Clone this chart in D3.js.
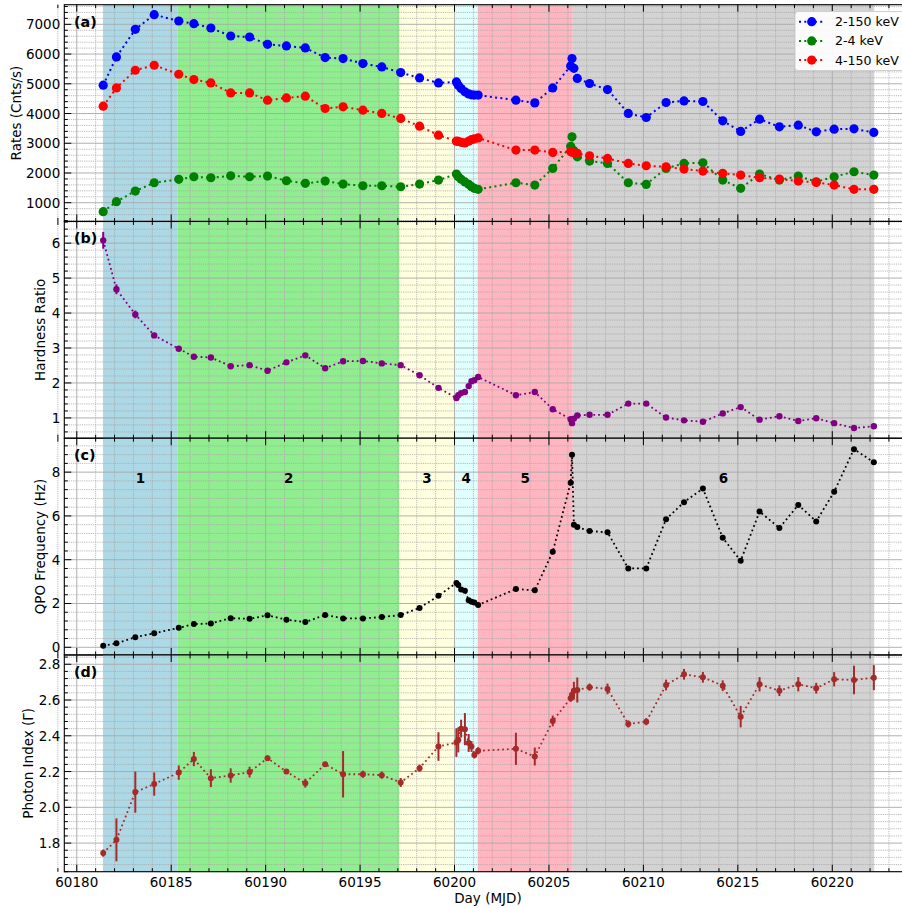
<!DOCTYPE html>
<html>
<head>
<meta charset="utf-8">
<script src="https://cdn.jsdelivr.net/npm/d3@7"></script>
<style>
  body { margin: 0; background: #fff; }
  svg { display: block; font-family: "DejaVu Sans", sans-serif; }
</style>
</head>
<body>
<div id="chart"></div>
<script>
// observation days (MJD)
const days = [60181.4, 60182.1, 60183.1, 60184.1, 60185.4, 60186.2, 60187.1, 60188.15, 60189.15, 60190.1,
  60191.1, 60192.1, 60193.15, 60194.1, 60195.15, 60196.15, 60197.15, 60198.15, 60199.15,
  60200.1, 60200.2, 60200.35, 60200.55, 60200.75, 60200.9, 60201.05, 60201.25,
  60203.25, 60204.25, 60205.2,
  60206.15, 60206.22, 60206.32, 60206.5,
  60207.15, 60208.1, 60209.2, 60210.15, 60211.2, 60212.15, 60213.15, 60214.2, 60215.15, 60216.15,
  60217.2, 60218.2, 60219.15, 60220.1, 60221.15, 60222.2];

// (a) count rates
const rateAll = [4952, 5902, 6832, 7326, 7111, 7022, 6876, 6607, 6574, 6328, 6272, 6205, 5882, 5848, 5680, 5566, 5378, 5197, 5029,
  5063, 4950, 4840, 4730, 4660, 4630, 4620, 4620,
  4448, 4358, 4861,
  5600, 5850, 5520, 5180,
  5009, 4807, 4002, 3867, 4371, 4425, 4404, 3753, 3397, 3810, 3552, 3609, 3384, 3474, 3484, 3364];
const rateSoft = [698, 1034, 1393, 1671, 1786, 1873, 1839, 1906, 1873, 1896, 1739, 1651, 1729, 1627, 1571, 1571, 1537, 1627, 1762,
  1963, 1873, 1790, 1700, 1620, 1540, 1483, 1450,
  1671, 1594, 2155,
  2900, 3216, 2750, 2545,
  2400, 2323, 1671, 1617, 2155, 2323, 2343, 1762, 1483, 1963, 1762, 1896, 1705, 1873, 2041, 1930];
const rateHard = [4247, 4861, 5455, 5623, 5321, 5143, 5029, 4693, 4693, 4448, 4526, 4582, 4169, 4224, 4112, 4002, 3834, 3575, 3273,
  3070, 3060, 3030, 3010, 3070, 3120, 3150, 3180,
  2769, 2769, 2691,
  2720, 2700, 2680, 2660,
  2580, 2491, 2323, 2243, 2209, 2131, 2064, 1987, 1930, 1840, 1796, 1729, 1684, 1594, 1450, 1450];

// (b) hardness ratio
const hardness = [6.08, 4.68, 3.96, 3.36, 2.98, 2.75, 2.73, 2.48, 2.51, 2.35, 2.59, 2.79, 2.42, 2.62, 2.63, 2.56, 2.51, 2.22, 1.86,
  1.57, 1.65, 1.71, 1.74, 1.91, 2.05, 2.08, 2.17,
  1.65, 1.74, 1.25,
  0.96, 0.85, 0.98, 1.07,
  1.09, 1.09, 1.41, 1.41, 1.01, 0.93, 0.89, 1.13, 1.31, 0.95, 1.05, 0.91, 0.99, 0.85, 0.71, 0.76];
const hardnessErr = [0.24, 0.14, 0.11, 0.06, 0.05, 0.04, 0.04, 0.04, 0.04, 0.04, 0.04, 0.04, 0.04, 0.04, 0.04, 0.03, 0.03, 0.03, 0.03,
  0.03, 0.03, 0.03, 0.03, 0.03, 0.03, 0.03, 0.03,
  0.03, 0.03, 0.02,
  0.03, 0.03, 0.02, 0.02,
  0.02, 0.02, 0.02, 0.02, 0.02, 0.02, 0.02, 0.02, 0.02, 0.02, 0.02, 0.02, 0.02, 0.02, 0.02, 0.02];

// (c) QPO frequency
const qpo = [0.07, 0.18, 0.46, 0.64, 0.89, 1.06, 1.09, 1.33, 1.30, 1.46, 1.26, 1.15, 1.48, 1.32, 1.32, 1.38, 1.47, 1.80, 2.35,
  2.94, 2.84, 2.64, 2.58, 2.15, 2.08, 2.05, 1.93,
  2.66, 2.60, 4.36,
  7.52, 8.79, 5.60, 5.49,
  5.31, 5.25, 3.60, 3.60, 5.85, 6.63, 7.25, 5.00, 3.95, 6.20, 5.45, 6.50, 5.75, 7.10, 9.05, 8.45];

// (d) photon index
const gamma = [1.744, 1.818, 2.085, 2.13, 2.194, 2.27, 2.163, 2.178, 2.197, 2.275, 2.2, 2.135, 2.241, 2.185, 2.185, 2.18, 2.139, 2.219, 2.34,
  2.362, 2.377, 2.44, 2.437, 2.36, 2.34, 2.293, 2.316,
  2.327, 2.284, 2.483,
  2.61, 2.63, 2.652, 2.656,
  2.672, 2.662, 2.466, 2.479, 2.684, 2.744, 2.727, 2.68, 2.507, 2.688, 2.652, 2.688, 2.666, 2.716, 2.712, 2.725];
const gammaErr = [0.02, 0.12, 0.115, 0.065, 0.04, 0.04, 0.05, 0.04, 0.03, 0.015, 0.01, 0.025, 0.01, 0.13, 0.02, 0.02, 0.025, 0.02, 0.08,
  0.08, 0.07, 0.05, 0.09, 0.05, 0.03, 0.02, 0.02,
  0.09, 0.05, 0.03,
  0.02, 0.03, 0.05, 0.07,
  0.02, 0.03, 0.02, 0.02, 0.03, 0.03, 0.03, 0.03, 0.06, 0.04, 0.03, 0.04, 0.03, 0.04, 0.08, 0.07];

// spectral states (shaded)
const stateEdges = [60181.39, 60185.35, 60197.08, 60200.01, 60201.23, 60206.26, 60222.22];
const stateColors = ["#add8e6", "#90ee90", "#ffffe0", "#e0ffff", "#ffb6c1", "#d3d3d3"];
const stateLabels = ["1", "2", "3", "4", "5", "6"];

const legendLabels = ["2-150 keV", "2-4 keV", "4-150 keV"];

const W = 902, H = 908;
const left = 64.3, right = 911.6;
const panelTop = 4.7, panelH = 216.75;

const x = d3.scaleLinear().domain([60179.34, 60224.2]).range([left, right]);

const svg = d3.select("#chart").append("svg")
  .attr("width", W).attr("height", H);

function rangeStep(a, b, s) {
  const out = [];
  for (let v = a; v <= b + 1e-9; v += s) out.push(+v.toFixed(6));
  return out;
}

const panels = [
  {tag: "(a)", label: "Rates (Cnts/s)", labelX: 16, domain: [370, 7660], major: rangeStep(1000, 7000, 1000), minorStep: 200, fmt: d3.format("d")},
  {tag: "(b)", label: "Hardness Ratio", labelX: 40, domain: [0.42, 6.62], major: rangeStep(1, 6, 1), minorStep: 0.2, fmt: d3.format("d")},
  {tag: "(c)", label: "QPO Frequency (Hz)", labelX: 40, domain: [-0.35, 9.55], major: rangeStep(0, 8, 2), minorStep: 0.4, fmt: d3.format("d")},
  {tag: "(d)", label: "Photon Index (\u0393)", labelX: 28, domain: [1.64, 2.852], major: rangeStep(1.8, 2.8, 0.2), minorStep: 0.04, fmt: d3.format(".1f")}
];

const xMajor = rangeStep(60180, 60225, 5);
const xMinor = rangeStep(60179, 60225, 1).filter(d => d % 5 !== 0);

panels.forEach((p, i) => {
  const top = panelTop + i * panelH;
  const bottom = top + panelH;
  p.y = d3.scaleLinear().domain(p.domain).range([bottom, top]);
  const lo = Math.ceil(p.domain[0] / p.minorStep) * p.minorStep;
  p.minor = rangeStep(lo, p.domain[1], p.minorStep)
    .filter(v => !p.major.some(m => Math.abs(m - v) < 1e-6));
  p.top = top; p.bottom = bottom;

  const g = svg.append("g").attr("class", "panel");
  p.g = g;

  // state shading
  g.selectAll(".state").data(stateColors)
    .join("rect")
    .attr("x", (d, k) => x(stateEdges[k]))
    .attr("width", (d, k) => x(stateEdges[k + 1]) - x(stateEdges[k]))
    .attr("y", top).attr("height", panelH)
    .attr("fill", d => d);

  // grid
  const grid = g.append("g").attr("class", "grid");
  grid.selectAll(".gxm").data(xMinor).join("line")
    .attr("x1", d => x(d)).attr("x2", d => x(d)).attr("y1", top).attr("y2", bottom)
    .attr("stroke", "#a8a8a8").attr("stroke-width", 0.8).attr("stroke-dasharray", "1.2,1");
  grid.selectAll(".gxM").data(xMajor).join("line")
    .attr("x1", d => x(d)).attr("x2", d => x(d)).attr("y1", top).attr("y2", bottom)
    .attr("stroke", "#a8a8a8").attr("stroke-width", 0.9);
  grid.selectAll(".gym").data(p.minor).join("line")
    .attr("x1", left).attr("x2", right).attr("y1", d => p.y(d)).attr("y2", d => p.y(d))
    .attr("stroke", "#a8a8a8").attr("stroke-width", 0.8).attr("stroke-dasharray", "1.2,1");
  grid.selectAll(".gyM").data(p.major).join("line")
    .attr("x1", left).attr("x2", right).attr("y1", d => p.y(d)).attr("y2", d => p.y(d))
    .attr("stroke", "#a8a8a8").attr("stroke-width", 0.9);
});

function drawSeries(p, values, color, r, lw, err) {
  const pts = days.map((d, k) => ({t: d, v: values[k], e: err ? err[k] : 0}));
  const line = d3.line().x(d => x(d.t)).y(d => p.y(d.v));
  p.g.append("path").datum(pts)
    .attr("d", line)
    .attr("fill", "none")
    .attr("stroke", color)
    .attr("stroke-width", lw)
    .attr("stroke-dasharray", `${lw},${lw * 1.65}`);
  if (err) {
    p.g.append("g").selectAll("line").data(pts).join("line")
      .attr("x1", d => x(d.t)).attr("x2", d => x(d.t))
      .attr("y1", d => p.y(d.v - d.e)).attr("y2", d => p.y(d.v + d.e))
      .attr("stroke", color).attr("stroke-width", 2);
  }
  p.g.append("g").selectAll("circle").data(pts).join("circle")
    .attr("cx", d => x(d.t)).attr("cy", d => p.y(d.v))
    .attr("r", r).attr("fill", color);
}

drawSeries(panels[0], rateAll, "#0000ff", 4.6, 2);
drawSeries(panels[0], rateSoft, "#008000", 4.6, 2);
drawSeries(panels[0], rateHard, "#ff0000", 4.6, 2);
drawSeries(panels[1], hardness, "#800080", 3.2, 1.8, hardnessErr);
drawSeries(panels[2], qpo, "#000000", 3, 1.8);
drawSeries(panels[3], gamma, "#a52a2a", 3, 1.8, gammaErr);

// state numbers in panel (c)
panels[2].g.selectAll(".stateLabel").data(stateLabels).join("text")
  .attr("x", (d, k) => x((stateEdges[k] + stateEdges[k + 1]) / 2))
  .attr("y", panels[2].y(7.72))
  .attr("text-anchor", "middle").attr("dominant-baseline", "central")
  .attr("font-size", 13.5).attr("font-weight", "bold")
  .text(d => d);

// axes, ticks and labels
panels.forEach((p, i) => {
  const g = p.g;
  const ax = g.append("g").attr("class", "axes");
  const tick = (sel, data, len, orient) => sel.selectAll(null).data(data).join("line")
    .attr("stroke", "#000").attr("stroke-width", 1)
    .each(function(d) {
      const s = d3.select(this);
      if (orient === "left") s.attr("x1", left).attr("x2", left + len).attr("y1", p.y(d)).attr("y2", p.y(d));
      if (orient === "bottom") s.attr("x1", x(d)).attr("x2", x(d)).attr("y1", p.bottom).attr("y2", p.bottom - len);
      if (orient === "top") s.attr("x1", x(d)).attr("x2", x(d)).attr("y1", p.top).attr("y2", p.top + len);
    });
  tick(ax, p.major, 7, "left");
  tick(ax, p.minor, 3.5, "left");
  tick(ax, xMajor, 7, "bottom");
  tick(ax, xMinor, 3.5, "bottom");
  tick(ax, xMajor, 7, "top");
  tick(ax, xMinor, 3.5, "top");

  ax.append("rect")
    .attr("x", left).attr("y", p.top)
    .attr("width", right - left).attr("height", panelH)
    .attr("fill", "none").attr("stroke", "#000").attr("stroke-width", 1.1);

  ax.selectAll(".ylab").data(p.major).join("text")
    .attr("x", left - 4).attr("y", d => p.y(d))
    .attr("text-anchor", "end").attr("dominant-baseline", "central")
    .attr("font-size", 13.5).attr("fill", "#000")
    .text(d => p.fmt(d));

  ax.append("text")
    .attr("transform", `translate(${p.labelX},${(p.top + p.bottom) / 2}) rotate(-90)`)
    .attr("text-anchor", "middle").attr("dominant-baseline", "central")
    .attr("font-size", 13.5)
    .text(p.label);

  ax.append("text")
    .attr("x", 74).attr("y", p.top + 17)
    .attr("dominant-baseline", "central")
    .attr("font-size", 14.3).attr("font-weight", "bold")
    .text(p.tag);
});

// x tick labels at the bottom
const last = panels[3];
svg.append("g").selectAll("text").data(xMajor.filter(d => x(d) < W)).join("text")
  .attr("x", d => x(d)).attr("y", last.bottom + 15.5)
  .attr("text-anchor", "middle")
  .attr("font-size", 13.5)
  .text(d => d);

svg.append("text")
  .attr("x", (left + right) / 2).attr("y", last.bottom + 31.5)
  .attr("text-anchor", "middle").attr("font-size", 13.5)
  .text("Day (MJD)");

// legend in panel (a)
const legendColors = ["#0000ff", "#008000", "#ff0000"];
const lg = svg.append("g").attr("transform", "translate(795,11.5)");
lg.append("rect").attr("width", 125).attr("height", 59).attr("rx", 3)
  .attr("fill", "#fff").attr("fill-opacity", 0.9).attr("stroke", "#d0d0d0");
legendLabels.forEach((lab, k) => {
  const yy = 10.2 + k * 19.2;
  lg.append("line").attr("x1", 4).attr("x2", 29).attr("y1", yy).attr("y2", yy)
    .attr("stroke", legendColors[k]).attr("stroke-width", 2).attr("stroke-dasharray", "2,3.3");
  lg.append("circle").attr("cx", 16.7).attr("cy", yy).attr("r", 4.6).attr("fill", legendColors[k]);
  lg.append("text").attr("x", 40).attr("y", yy).attr("dominant-baseline", "central")
    .attr("font-size", 12.6).text(lab);
});
</script>
</body>
</html>
